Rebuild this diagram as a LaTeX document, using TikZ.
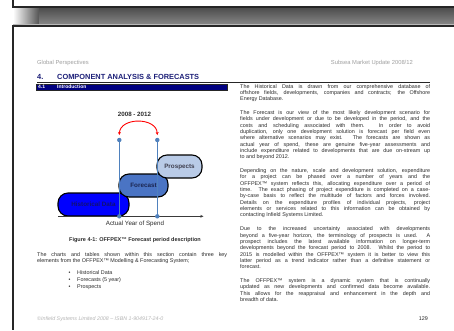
\documentclass[tikz,border=0pt]{standalone}
\usepackage{fontspec}
\setmainfont{Liberation Sans}
\usetikzlibrary{arrows.meta}
\definecolor{pageframe}{HTML}{262626}
\definecolor{shadowtop}{HTML}{4C4C4C}
\definecolor{shadowbot}{HTML}{858585}
\definecolor{hdrgray}{HTML}{A0A0A0}
\definecolor{headnavy}{HTML}{1C1F78}
\definecolor{introfill}{HTML}{000080}
\definecolor{bodytext}{HTML}{2A2A2A}
\definecolor{markblue}{HTML}{4F81BD}
\definecolor{histfill}{HTML}{0000FF}
\definecolor{histtext}{HTML}{12126E}
\definecolor{forefill}{HTML}{4A74C4}
\definecolor{foretext}{HTML}{1B2550}
\definecolor{prosfill}{HTML}{B9CBE7}
\definecolor{prostext}{HTML}{404050}
\definecolor{axisgray}{HTML}{3A3A3A}
\definecolor{footgray}{HTML}{B4B4B4}
\begin{document}
\begin{tikzpicture}[x=1pt,y=-1pt,
  body/.style={font=\fontsize{5.4}{6.35}\selectfont, text=bodytext, inner sep=0pt},
  para/.style={body, text width=190pt, align=justify, anchor=base west},
  hdr/.style={font=\fontsize{5.8}{6.5}\selectfont, text=hdrgray, inner sep=0pt},
  heading/.style={font=\bfseries\fontsize{7.4}{8}\selectfont, text=headnavy, inner sep=0pt, anchor=base west},
  introtxt/.style={font=\bfseries\fontsize{5}{6}\selectfont, text=white, inner sep=0pt, anchor=base west},
  phase/.style={draw=black, line width=1.1pt, rounded corners=10pt, minimum height=23pt, inner sep=0pt,
     font=\bfseries\fontsize{6.3}{7}\selectfont, text height=4.5pt, text depth=0pt},
  marker/.style={circle, fill=markblue, inner sep=0pt, minimum size=4.4pt},
  guide/.style={draw=markblue, line width=0.9pt},
  bulletitem/.style={body, anchor=base west},
]
\useasboundingbox (0,0) rectangle (454,330);
\fill[white] (0,0) rectangle (454,330);

% previous page edge and shadow band
\shade[top color=shadowtop, bottom color=shadowbot] (38,7.5) rectangle (454,24);
\shade[left color=white, right color=shadowtop!80!shadowbot] (13,7.5) rectangle (38.5,24);
\draw[line width=2pt, pageframe] (12.5,0) -- (12.5,6.5) -- (454,6.5);
\draw[line width=0.7pt, gray!55] (13,24.2) -- (454,24.2);
\draw[line width=2pt, pageframe] (454,25.6) -- (12.5,25.6) -- (12.5,330);

% running header
\node[hdr, anchor=base west] (gp) at (37,64) {Global Perspectives};
\node[hdr, anchor=base east] (smu) at (413,64) {Subsea Market Update 2008/12};

% section heading
\node[heading] (hnum) at (37,79.7) {4.};
\node[heading] (htitle) at (57,79.7) {COMPONENT ANALYSIS \& FORECASTS};
\draw[line width=1.1pt, pageframe] (37,82.3) -- (430,82.3);

% 4.1 box
\node[fill=introfill, draw=pageframe, line width=0.4pt, minimum width=191.5pt, minimum height=6.5pt,
      inner sep=0pt, anchor=north west] (ibox) at (35.5,83.6) {};
\node[introtxt] (inum) at (38,88.6) {4.1};
\node[introtxt] (ititle) at (57,88.6) {Introduction};

% right column
\node[para] (p1) at (240,88) {\spaceskip=.28em plus 2em minus .03em
The Historical Data is drawn from our comprehensive database of\linebreak
offshore fields, developments, companies and contracts; the Offshore\linebreak
Energy Database.};
\node[para] (p2) at (240,114.4) {\spaceskip=.28em plus 2em minus .03em
The Forecast is our view of the most likely development scenario for\linebreak
fields under development or due to be developed in the period, and the\linebreak
costs and scheduling associated with them. In order to avoid\linebreak
duplication, only one development solution is forecast per field even\linebreak
where alternative scenarios may exist. The forecasts are shown as\linebreak
actual year of spend, these are genuine five-year assessments and\linebreak
include expenditure related to developments that are due on-stream up\linebreak
to and beyond 2012.};
\node[para] (p3) at (240,172.5) {\spaceskip=.28em plus 2em minus .03em
Depending on the nature, scale and development solution, expenditure\linebreak
for a project can be phased over a number of years and the\linebreak
OFFPEX™ system reflects this, allocating expenditure over a period of\linebreak
time. The exact phasing of project expenditure is completed on a case-\linebreak
by-case basis to reflect the multitude of factors and forces involved.\linebreak
Details on the expenditure profiles of individual projects, project\linebreak
elements or services related to this information can be obtained by\linebreak
contacting Infield Systems Limited.};
\node[para] (p4) at (240,230.7) {\spaceskip=.28em plus 2em minus .03em
Due to the increased uncertainty associated with developments\linebreak
beyond a five-year horizon, the terminology of prospects is used. A\linebreak
prospect includes the latest available information on longer-term\linebreak
developments beyond the forecast period to 2008. Whilst the period to\linebreak
2015 is modelled within the OFFPEX™ system it is better to view this\linebreak
latter period as a trend indicator rather than a definitive statement or\linebreak
forecast.};
\node[para] (p5) at (240,282.5) {\spaceskip=.28em plus 2em minus .03em
The OFFPEX™ system is a dynamic system that is continually\linebreak
updated as new developments and confirmed data become available.\linebreak
This allows for the reappraisal and enhancement in the depth and\linebreak
breadth of data.};

% diagram
\node[font=\bfseries\fontsize{6.2}{7}\selectfont, text=bodytext, inner sep=0pt] (years) at (134.5,114) {2008 - 2012};
\node[phase, fill=histfill, text=histtext, minimum width=71pt] (hist) at (93.5,204.5) {Historical Data};
\node[phase, fill=forefill, text=foretext, minimum width=49pt] (fore) at (143.5,185.5) {Forecast};
\node[phase, fill=prosfill, text=prostext, minimum width=45pt] (pros) at (179.5,166.5) {Prospects};

\coordinate (axL) at (58,216.3);
\coordinate (axR) at (203.5,216.3);
\draw[line width=1.2pt, axisgray, -{Stealth[length=3.2pt,width=2.8pt]}] (axL) -- (axR);

\node[marker] (m1t) at (119.3,140) {};
\node[marker] (m2t) at (157.3,140) {};
\node[marker] (m1b) at (119.3,216.3) {};
\node[marker] (m2b) at (157.3,216.3) {};
\draw[guide] (m1t.center) -- (m1b.center);
\draw[guide] (m2t.center) -- (m2b.center);

\coordinate (r1) at (119.3,135);
\coordinate (r2) at (157.3,135);
\draw[red, line width=0.9pt, {Stealth[length=3pt,width=3pt]}-{Stealth[length=3pt,width=3pt]}]
  (r1) .. controls (120,117) and (156.6,117) .. (r2);

\node[font=\fontsize{6.2}{7}\selectfont, text=bodytext, inner sep=0pt, anchor=base] (xlabel) at (135,225.6) {Actual Year of Spend};
\node[font=\bfseries\fontsize{5.5}{6.5}\selectfont, text=bodytext, inner sep=0pt, anchor=base] (caption) at (135,241.2) {Figure 4-1: OFFPEX™ Forecast period description};

% left paragraph and list
\node[para] (lp) at (37,256) {\spaceskip=.28em plus 2em minus .03em
The charts and tables shown within this section contain three key\linebreak
elements from the OFFPEX™ Modelling \& Forecasting System;};
\node[body, anchor=base west] (b1) at (68.5,274.5) {•};
\node[bulletitem] (l1) at (77,274.5) {Historical Data};
\node[body, anchor=base west] (b2) at (68.5,281.6) {•};
\node[bulletitem] (l2) at (77,281.6) {Forecasts (5 year)};
\node[body, anchor=base west] (b3) at (68.5,288.7) {•};
\node[bulletitem] (l3) at (77,288.7) {Prospects};

% footer
\node[font=\itshape\fontsize{5.3}{6}\selectfont, text=footgray, inner sep=0pt, anchor=base west] (foot) at (37,320.8) {©Infield Systems Limited 2008 – ISBN 1-904917-24-0};
\node[body, anchor=base east] (pnum) at (428,320.8) {129};
\end{tikzpicture}
\end{document}
